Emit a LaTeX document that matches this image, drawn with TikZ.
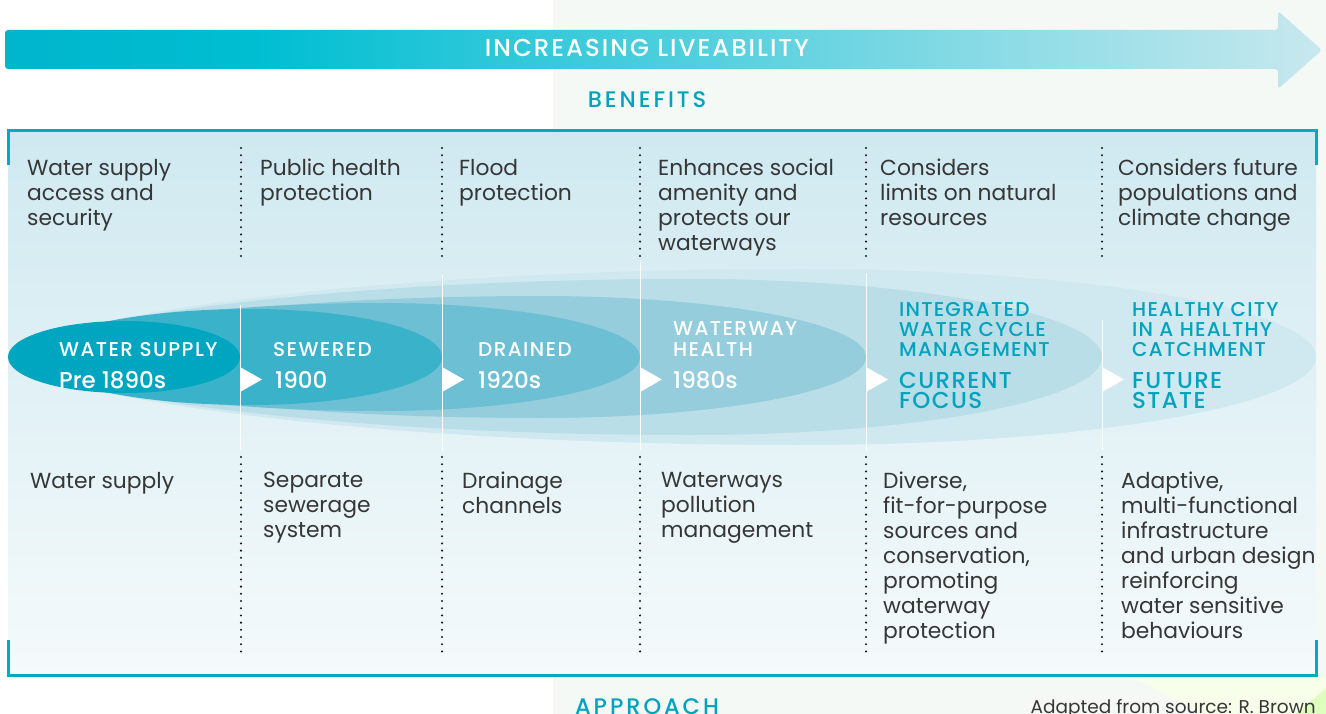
\documentclass[tikz,border=0pt]{standalone}
\usepackage{fontspec}
\setmainfont{Poppins}[BoldFont={Poppins Medium}]
\usepackage{xcolor}

\definecolor{barDark}{HTML}{00B5CD}
\definecolor{barMid}{HTML}{00BED2}
\definecolor{barLight}{HTML}{C8E8EE}
\definecolor{headTeal}{HTML}{00A3BE}
\definecolor{frameTeal}{HTML}{00A9C4}
\definecolor{paleGreen}{HTML}{F4F9F6}
\definecolor{boxTop}{HTML}{CFE9F0}
\definecolor{boxBottom}{HTML}{F5FAFB}
\definecolor{layerA}{HTML}{00A6C0}
\definecolor{layerB}{HTML}{3AB2C9}
\definecolor{layerC}{HTML}{6DBFD3}
\definecolor{layerD}{HTML}{95CDDD}
\definecolor{layerE}{HTML}{B9DEE8}
\definecolor{layerF}{HTML}{D0E8EF}
\definecolor{textGray}{HTML}{363636}

\pgfdeclarehorizontalshading{liveShade}{100bp}{color(0bp)=(barDark); color(25bp)=(barDark); color(34.5bp)=(barMid); color(75bp)=(barLight); color(100bp)=(barLight)}

\begin{document}
\begin{tikzpicture}[x=1pt,y=-1pt,
    bodytext/.style={anchor=north west,inner sep=0pt,align=left,text=textGray,font=\fontsize{21.8}{25}\selectfont},
    eraname/.style={anchor=north west,inner sep=0pt,align=left,text=white,font=\fontsize{20}{21}\selectfont\bfseries\addfontfeatures{LetterSpace=7}},
    erayear/.style={anchor=north west,inner sep=0pt,align=left,text=white,font=\fontsize{23}{20}\selectfont\bfseries},
    erahead/.style={eraname,text=headTeal,font=\fontsize{20}{20}\selectfont\bfseries\addfontfeatures{LetterSpace=6}},
    erafocus/.style={erayear,text=headTeal,font=\fontsize{23}{20.5}\selectfont\bfseries\addfontfeatures{LetterSpace=6}},
    title/.style={anchor=base,inner sep=0pt,font=\fontsize{22.5}{24}\selectfont\bfseries\addfontfeatures{LetterSpace=13}},
    dotline/.style={line width=2.3pt,line cap=round,dash pattern=on 0pt off 7.2pt,black!90},
    sepline/.style={white,line width=1pt}]
    \useasboundingbox (0,0) rectangle (1326,714);

    % Background:
    \fill[white] (0,0) rectangle (1326,714);
    \fill[paleGreen] (553,0) rectangle (1326,714);
    \fill[green!40!yellow!8] (1133,677) -- (1326,677) -- (1326,714) -- (1200,714) -- cycle;
    \fill[green!50!yellow!25] (1296,714) -- (1326,688) -- (1326,714) -- cycle;

    % Arrow on top:
    \shade[shading=liveShade,rounded corners=3pt]
        (5,30) -- (1278,30) -- (1278,11) -- (1322,50) -- (1278,89) -- (1278,69) -- (5,69) -- cycle;
    \node[title,text=white,font=\fontsize{24.5}{26}\selectfont\bfseries\addfontfeatures{LetterSpace=8}] (live) at (647,57) {INCREASING LIVEABILITY};
    \node[title,text=headTeal] (benefits) at (647,108) {BENEFITS};

    % Box:
    \shade[top color=boxTop,bottom color=boxBottom] (8,131) rectangle (1316,675);
    \draw[frameTeal,line width=3pt] (8,165) -- (8,131) -- (1316,131) -- (1316,165);
    \draw[frameTeal,line width=3pt] (8,640) -- (8,675) -- (1316,675) -- (1316,640);

    % Layers, outermost first:
    \foreach \r/\c/\h/\col in {1316/800/88/layerF,1102/690/78/layerE,866/540/61/layerD,640/380/54/layerC,442/250/48/layerB}{%
        \fill[\col] (8,357)
            .. controls (40,{357-0.45*\h}) and ({\c-0.55*(\c-8)},{357-\h}) .. (\c,{357-\h})
            .. controls ({\c+0.552*(\r-\c)},{357-\h}) and (\r,{357-0.552*\h}) .. (\r,357)
            .. controls (\r,{357+0.552*\h}) and ({\c+0.552*(\r-\c)},{357+\h}) .. (\c,{357+\h})
            .. controls ({\c-0.55*(\c-8)},{357+\h}) and (40,{357+0.45*\h}) .. (8,357) -- cycle;
    }
    \fill[layerA] (124,357) ellipse [x radius=116,y radius=36];

    % Separators:
    \foreach \x/\t in {240/305,442/275,640/262,866/273,1102/320}{%
        \draw[sepline] (\x,\t) -- (\x,450);
        \fill[white] (\x,367) -- (\x+22,379.5) -- (\x,392) -- cycle;
    }
    \foreach \x in {241,442,640,866,1102}{%
        \draw[dotline] (\x,148) -- (\x,263);
        \draw[dotline] (\x,457) -- (\x,655);
    }

    % Benefits:
    \node[bodytext] (ben1) at (27,159) {Water supply\\access and\\security};
    \node[bodytext] (ben2) at (260,159) {Public health\\protection};
    \node[bodytext] (ben3) at (459,159) {Flood\\protection};
    \node[bodytext] (ben4) at (658,159) {Enhances social\\amenity and\\protects our\\waterways};
    \node[bodytext] (ben5) at (880,159) {Considers\\limits on natural\\resources};
    \node[bodytext] (ben6) at (1118,159) {Considers future\\populations and\\climate change};

    % Eras:
    \node[eraname] (nameSupply) at (59,342) {WATER SUPPLY};
    \node[erayear] (yearSupply) at (59,371) {Pre 1890s};
    \node[eraname] (nameSewered) at (273,342) {SEWERED};
    \node[erayear] (yearSewered) at (275,371) {1900};
    \node[eraname] (nameDrained) at (478,342) {DRAINED};
    \node[erayear] (yearDrained) at (478,371) {1920s};
    \node[eraname] (nameWaterway) at (673,321) {WATERWAY\\HEALTH};
    \node[erayear] (yearWaterway) at (673,371) {1980s};
    \node[erahead] (nameIntegrated) at (899,302) {INTEGRATED\\WATER CYCLE\\MANAGEMENT};
    \node[erafocus] (yearIntegrated) at (899,372) {CURRENT\\FOCUS};
    \node[erahead] (nameHealthy) at (1132,302) {HEALTHY CITY\\IN A HEALTHY\\CATCHMENT};
    \node[erafocus] (yearHealthy) at (1132,372) {FUTURE\\STATE};

    % Approach:
    \node[bodytext] (app1) at (30,472) {Water supply};
    \node[bodytext] (app2) at (263,472) {Separate\\sewerage\\system};
    \node[bodytext] (app3) at (462,472) {Drainage\\channels};
    \node[bodytext] (app4) at (661,472) {Waterways\\pollution\\management};
    \node[bodytext] (app5) at (883,472) {Diverse,\\fit-for-purpose\\sources and\\conservation,\\promoting\\waterway\\protection};
    \node[bodytext] (app6) at (1121,472) {Adaptive,\\multi-functional\\infrastructure\\and urban design\\reinforcing\\water sensitive\\behaviours};

    \node[title,text=headTeal] (approach) at (647,714) {APPROACH};
    \node[anchor=base east,inner sep=0pt,text=textGray,font=\fontsize{18.5}{20}\selectfont] (source) at (1316,713) {Adapted from source: R. Brown};
\end{tikzpicture}
\end{document}
